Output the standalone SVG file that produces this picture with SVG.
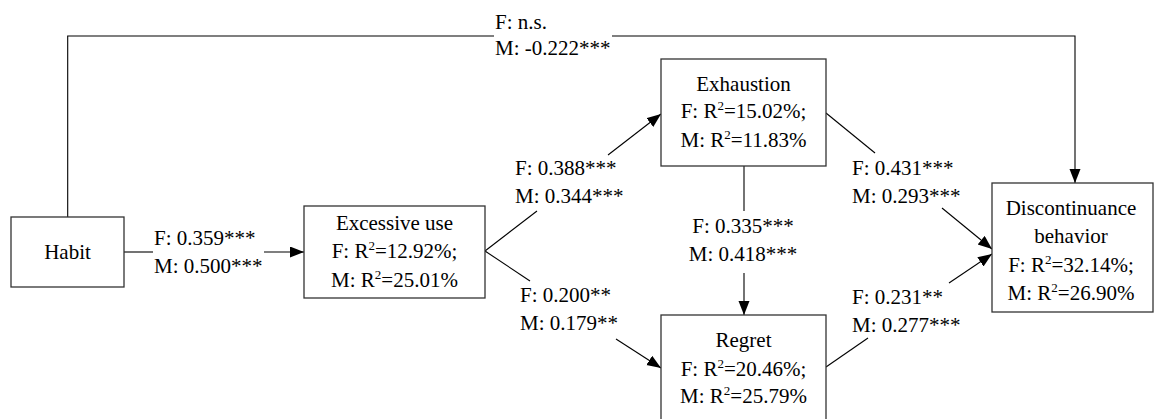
<svg xmlns="http://www.w3.org/2000/svg" width="1156" height="419" viewBox="0 0 1156 419">
<style>
text{font-family:'Times New Roman','Liberation Serif',Tinos,'Noto Serif','DejaVu Serif',FreeSerif,Times,serif;font-size:21px;fill:#000}
.box{fill:#fff;stroke:#333;stroke-width:1.3}
.c{fill:none;stroke:#000;stroke-width:1.1}
.m{text-anchor:middle}
</style>
<defs>
<marker id="ah" markerUnits="userSpaceOnUse" markerWidth="15" markerHeight="12" refX="14" refY="5.5" orient="auto">
<path d="M0,0 L14,5.5 L0,11 z" fill="#000"/>
</marker>
</defs>
<g id="connectors">
<polyline class="c" points="67.7,217 67.7,36 494,36"/>
<polyline class="c" points="612,36 1075,36 1075,183" marker-end="url(#ah)"/>
<text x="495" y="29">F: n.s.</text>
<text x="495" y="55">M: -0.222***</text>
<line class="c" x1="124" y1="252" x2="153" y2="252"/>
<line class="c" x1="264" y1="252" x2="304" y2="252" marker-end="url(#ah)"/>
<text x="154" y="245">F: 0.359***</text>
<text x="154" y="273">M: 0.500***</text>
<line class="c" x1="485" y1="251" x2="537" y2="211"/>
<line class="c" x1="608" y1="155" x2="661" y2="114" marker-end="url(#ah)"/>
<text x="515" y="175">F: 0.388***</text>
<text x="515" y="203">M: 0.344***</text>
<line class="c" x1="485" y1="251" x2="530" y2="281"/>
<line class="c" x1="616" y1="339" x2="661" y2="368" marker-end="url(#ah)"/>
<text x="520" y="302">F: 0.200**</text>
<text x="520" y="330">M: 0.179**</text>
<line class="c" x1="744" y1="166" x2="744" y2="211"/>
<line class="c" x1="744" y1="273" x2="744" y2="315" marker-end="url(#ah)"/>
<text class="m" x="743" y="233">F: 0.335***</text>
<text class="m" x="743" y="261">M: 0.418***</text>
<line class="c" x1="826" y1="113" x2="875" y2="153"/>
<line class="c" x1="942" y1="208" x2="992" y2="249" marker-end="url(#ah)"/>
<text x="852" y="175">F: 0.431***</text>
<text x="852" y="203">M: 0.293***</text>
<line class="c" x1="826" y1="367" x2="868" y2="338"/>
<line class="c" x1="949" y1="283" x2="992" y2="254" marker-end="url(#ah)"/>
<text x="852" y="304">F: 0.231**</text>
<text x="852" y="332">M: 0.277***</text>
</g>
<g id="habit">
<rect class="box" x="11" y="217" width="113" height="70"/>
<text class="m" x="67.5" y="259">Habit</text>
</g>
<g id="excessive-use">
<rect class="box" x="304" y="206" width="181" height="92"/>
<text class="m" x="394.5" y="230">Excessive use</text>
<text class="m" x="394.5" y="258">F: R<tspan dy="-8" font-size="13">2</tspan><tspan dy="8">=12.92%;</tspan></text>
<text class="m" x="394.5" y="286.5">M: R<tspan dy="-8" font-size="13">2</tspan><tspan dy="8">=25.01%</tspan></text>
</g>
<g id="exhaustion">
<rect class="box" x="661" y="59" width="165" height="107"/>
<text class="m" x="743.5" y="90.5">Exhaustion</text>
<text class="m" x="743.5" y="118">F: R<tspan dy="-8" font-size="13">2</tspan><tspan dy="8">=15.02%;</tspan></text>
<text class="m" x="743.5" y="146.5">M: R<tspan dy="-8" font-size="13">2</tspan><tspan dy="8">=11.83%</tspan></text>
</g>
<g id="regret">
<rect class="box" x="661" y="315" width="165" height="112"/>
<text class="m" x="743.5" y="346.5">Regret</text>
<text class="m" x="743.5" y="376">F: R<tspan dy="-8" font-size="13">2</tspan><tspan dy="8">=20.46%;</tspan></text>
<text class="m" x="743.5" y="403">M: R<tspan dy="-8" font-size="13">2</tspan><tspan dy="8">=25.79%</tspan></text>
</g>
<g id="discontinuance">
<rect class="box" x="992" y="183" width="161" height="129"/>
<text class="m" x="1071" y="215">Discontinuance</text>
<text class="m" x="1071" y="243">behavior</text>
<text class="m" x="1071" y="271.5">F: R<tspan dy="-8" font-size="13">2</tspan><tspan dy="8">=32.14%;</tspan></text>
<text class="m" x="1071" y="300">M: R<tspan dy="-8" font-size="13">2</tspan><tspan dy="8">=26.90%</tspan></text>
</g>
</svg>
